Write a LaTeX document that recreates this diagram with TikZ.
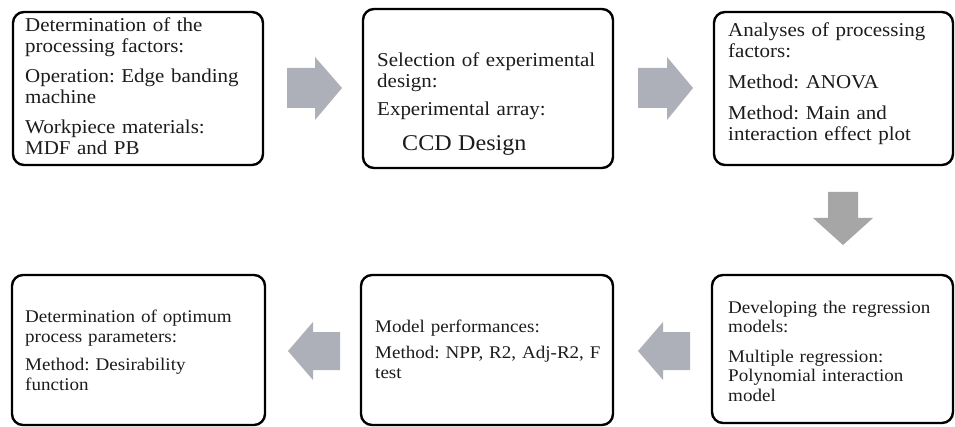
\documentclass[tikz,border=0pt]{standalone}
\usepackage{fontspec}
\setmainfont[FakeStretch=1.07]{Liberation Serif}
\frenchspacing
\definecolor{arrowblue}{HTML}{ADB0B9}
\definecolor{arrowgray}{HTML}{A6A6A6}
\definecolor{txt}{HTML}{1C1C1C}
\begin{document}
\begin{tikzpicture}[x=1pt,y=-1pt,
  box/.style={draw=black, line width=2.4pt, rounded corners=11pt, fill=white, inner sep=0pt},
  toptext/.style={anchor=base west, inner sep=0pt, align=left, text width=240pt,
    font=\fontsize{19.6}{21}\selectfont\frenchspacing, text=txt},
  bottext/.style={anchor=base west, inner sep=0pt, align=left, text width=240pt,
    font=\fontsize{17.8}{19.5}\selectfont\frenchspacing, text=txt},
  harrow/.style={fill=arrowblue},
  varrow/.style={fill=arrowgray}]
\useasboundingbox (0,0) rectangle (955,427);
\fill[white] (0,0) rectangle (955,427);

% boxes
\node[box, minimum width=250pt, minimum height=153pt] (b1) at (138,88.5) {};
\node[box, minimum width=250pt, minimum height=159pt] (b2) at (488,88.5) {};
\node[box, minimum width=239pt, minimum height=153pt] (b3) at (833.5,88.5) {};
\node[box, minimum width=241pt, minimum height=148pt] (b6) at (832.5,349) {};
\node[box, minimum width=252pt, minimum height=150pt] (b5) at (487,350) {};
\node[box, minimum width=253pt, minimum height=150pt] (b4) at (138.5,350) {};

% texts
\node[toptext] (t1) at (25,32) {Determination of the\\ processing factors:\\[9pt]
  Operation: Edge banding\\ machine\\[9pt] Workpiece materials:\\ MDF and PB};
\node[toptext] (t2) at (377,67) {Selection of experimental\\ design:\\[7pt]
  Experimental array:\\[14pt] \hspace*{25pt}{\fontsize{22.5}{24}\selectfont CCD Design}};
\node[toptext] (t3) at (728,37) {Analyses of processing\\ factors:\\[10pt]
  Method: ANOVA\\[10pt] Method: Main and\\ interaction effect plot};
\node[bottext] (t6) at (728,313) {Developing the regression\\ models:\\[10pt]
  Multiple regression:\\ Polynomial interaction\\ model};
\node[bottext] (t5) at (375,333) {Model performances:\\[6pt]
  Method: NPP, R2, Adj-R2, F\\ test};
\node[bottext] (t4) at (25,323) {Determination of optimum\\ process parameters:\\[9pt]
  Method: Desirability\\ function};

% block arrows
\fill[harrow] (287,68) -- (315,68) -- (315,57) -- (342,88) -- (315,120) -- (315,108) -- (287,108) -- cycle;
\fill[harrow] (638,68) -- (667,68) -- (667,57) -- (693,88) -- (667,120) -- (667,108) -- (638,108) -- cycle;
\fill[varrow] (828,192) -- (858,192) -- (858,218) -- (873,218) -- (843,245) -- (813,218) -- (828,218) -- cycle;
\fill[harrow] (690,332) -- (663,332) -- (663,322) -- (638,351) -- (663,380) -- (663,370) -- (690,370) -- cycle;
\fill[harrow] (340,332) -- (313,332) -- (313,322) -- (288,351) -- (313,380) -- (313,370) -- (340,370) -- cycle;
\end{tikzpicture}
\end{document}
